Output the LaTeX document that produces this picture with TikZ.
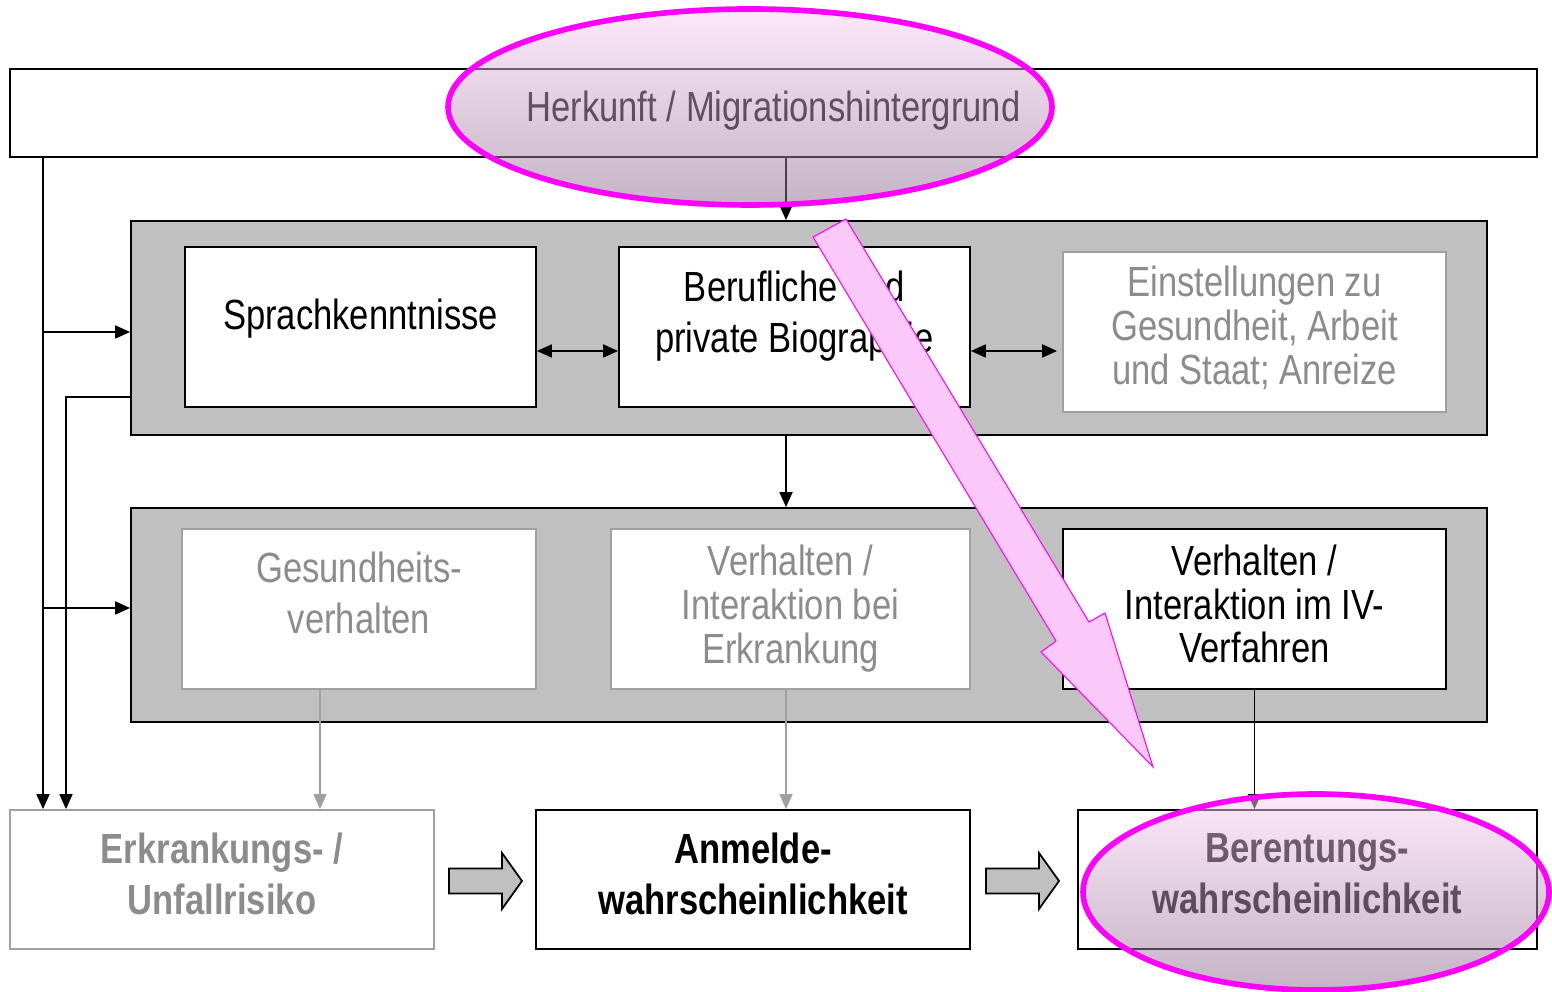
\documentclass[tikz,border=0pt]{standalone}
\usepackage{fontspec}
\setmainfont[FakeStretch=0.82]{Liberation Sans}
\usepackage{xcolor}
\usepackage{tikz}
\usetikzlibrary{
  arrows.meta,
  positioning,
  calc,
  shapes.geometric
}

\definecolor{panelgrey}{HTML}{C0C0C0}
\definecolor{faintline}{HTML}{A0A0A0}
\definecolor{fainttext}{HTML}{8C8C8C}
\definecolor{hotpink}{HTML}{FF00FF}
\definecolor{ringtop}{HTML}{FBD2F7}
\definecolor{ringbot}{HTML}{8A698A}
\definecolor{arrowpink}{HTML}{FBC8FA}

\begin{document}
\begin{tikzpicture}[
  every node/.style={font=\fontsize{24}{29}\selectfont, align=center, inner sep=0pt},
  tight/.style={font=\fontsize{24}{25}\selectfont},
  strong/.style={font=\fontsize{24}{29}\selectfont\bfseries},
  lift/.style={text depth=#1},
  whitebox/.style={draw=black, fill=white, line width=1pt},
  faintbox/.style={draw=faintline, fill=white, line width=1pt, text=fainttext},
  panel/.style={draw=black, fill=panelgrey, line width=1pt},
  link/.style={line width=1pt, -{Triangle[length=0.3cm,width=0.26cm]}},
  twoway/.style={line width=1pt, {Triangle[length=0.3cm,width=0.26cm]}-{Triangle[length=0.3cm,width=0.26cm]}},
  blockarrow/.style={draw=black, fill=panelgrey, line width=1pt},
  ring/.style={ellipse, draw=hotpink, line width=3.2pt, top color=ringtop, bottom color=ringbot,
    fill opacity=0.5, draw opacity=1}
]
  \useasboundingbox (0,0) rectangle (31.04,19.84);

  % top bar
  \node[whitebox, minimum width=30.54cm, minimum height=1.76cm, lift=7.5pt] (herkunft) at (15.47,17.58)
    {Herkunft / Migrationshintergrund};

  % grey panels
  \node[panel, minimum width=27.12cm, minimum height=4.28cm] (panelA) at (16.18,13.28) {};
  \node[panel, minimum width=27.12cm, minimum height=4.28cm] (panelB) at (16.18,7.54) {};

  % first row
  \node[whitebox, minimum width=7.02cm, minimum height=3.2cm, lift=14pt] (sprache) at (7.21,13.30)
    {Sprachkenntnisse};
  \node[whitebox, minimum width=7.02cm, minimum height=3.2cm, lift=17.5pt] (biografie) at (15.89,13.30)
    {Berufliche und\\private Biographie};
  \node[faintbox, tight, minimum width=7.66cm, minimum height=3.2cm, lift=8pt] (einstellung) at (25.09,13.20)
    {Einstellungen zu\\Gesundheit, Arbeit\\und Staat; Anreize};

  % second row
  \node[faintbox, minimum width=7.08cm, minimum height=3.2cm, lift=18pt] (gesundheit) at (7.18,7.66)
    {Gesundheits-\\verhalten};
  \node[faintbox, tight, minimum width=7.18cm, minimum height=3.2cm] (erkrankung) at (15.81,7.66)
    {Verhalten /\\Interaktion bei\\Erkrankung};
  \node[whitebox, tight, minimum width=7.66cm, minimum height=3.2cm, lift=6pt] (ivverfahren) at (25.09,7.66)
    {Verhalten /\\Interaktion im IV-\\Verfahren};

  % outcomes
  \node[faintbox, strong, minimum width=8.48cm, minimum height=2.78cm, lift=7pt] (risiko) at (4.44,2.25)
    {Erkrankungs- /\\Unfallrisiko};
  \node[whitebox, strong, minimum width=8.68cm, minimum height=2.78cm, lift=7pt] (anmeldung) at (15.06,2.25)
    {Anmelde-\\wahrscheinlichkeit};
  \node[whitebox, strong, minimum width=9.18cm, minimum height=2.78cm, lift=7pt] (berentung) at (26.15,2.25)
    {Berentungs-\\wahrscheinlichkeit};

  % vertical guides
  \coordinate (lx) at (0.86,0);
  \coordinate (lxx) at (1.32,0);
  \coordinate (mx) at (15.72,0);
  \coordinate (gx) at (6.4,0);
  \coordinate (inA) at ([yshift=-0.08cm]panelA.west);
  \coordinate (inB) at ([yshift=0.14cm]panelB.west);

  % connectors
  \draw[link] (lx |- herkunft.south) -- (lx |- risiko.north);
  \draw[link] (lx |- inA) -- (inA);
  \draw[link] (lx |- inB) -- (inB);
  \draw[link] ([yshift=-1.38cm]panelA.west) -| (lxx |- risiko.north);
  \draw[link] (mx |- herkunft.south) -- (mx |- panelA.north);
  \draw[link] (mx |- panelA.south) -- (mx |- panelB.north);
  \draw[twoway] ([yshift=-0.48cm]sprache.east) -- ([yshift=-0.48cm]biografie.west);
  \draw[twoway] ([yshift=-0.48cm]biografie.east) -- ([xshift=-0.1cm,yshift=-0.38cm]einstellung.west);
  \draw[link, faintline] (gx |- gesundheit.south) -- (gx |- risiko.north);
  \draw[link, faintline] (mx |- erkrankung.south) -- (mx |- anmeldung.north);
  \draw[link] (ivverfahren.south) -- (ivverfahren.south |- berentung.north);

  % block arrows
  \foreach \x in {8.98,19.72}{
    \draw[blockarrow] (\x,2.47) -- ++(1.06,0) -- ++(0,0.31) -- ++(0.4,-0.56)
      -- ++(-0.4,-0.56) -- ++(0,0.31) -- ++(-1.06,0) -- cycle;
  }

  % highlights
  \node[ring, minimum width=12.08cm, minimum height=3.92cm] (ringA) at (15.0,17.70) {};
  \node[ring, minimum width=9.32cm, minimum height=3.92cm] (ringB) at (26.32,2.0) {};

  % pink arrow
  \draw[draw=hotpink, fill=arrowpink, line width=0.6pt, line join=miter]
    (16.26,15.10) -- (16.92,15.46) -- (21.78,7.40) -- (22.10,7.58) -- (23.06,4.50)
    -- (20.82,6.80) -- (21.12,7.02) -- cycle;
\end{tikzpicture}
\end{document}
